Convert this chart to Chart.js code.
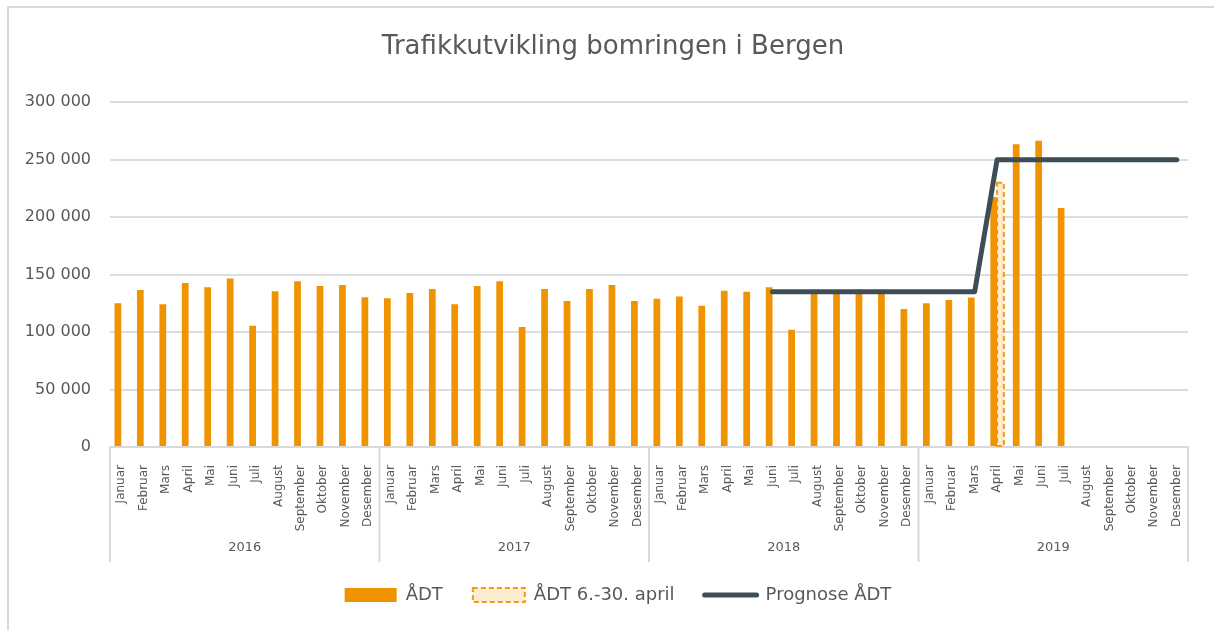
<!DOCTYPE html>
<html>
<head>
<meta charset="utf-8">
<script src="https://cdn.jsdelivr.net/npm/chart.js@4"></script>
<style>
  html, body { margin: 0; padding: 0; background: #fff; }
  #wrap { width: 1214px; height: 630px; }
</style>
</head>
<body>
<div id="wrap"><canvas id="trafikk" width="1214" height="630"></canvas></div>
<script>
// Kategorier
const months = ['Januar', 'Februar', 'Mars', 'April', 'Mai', 'Juni', 'Juli', 'August', 'September', 'Oktober', 'November', 'Desember'];
const years = ['2016', '2017', '2018', '2019'];

// ÅDT per måned (lest av figuren)
const adt2016 = [125000, 136500, 124300, 142600, 139000, 146500, 105500, 135600, 144300, 140000, 141000, 130400];
const adt2017 = [129400, 134000, 137500, 124300, 140000, 144300, 104300, 137400, 127000, 137400, 141000, 127000];
const adt2018 = [129000, 131000, 123000, 136000, 135000, 139000, 102000, 136000, 135500, 137000, 135000, 120000];
const adt2019 = [125000, 128000, 130000, 217600, 263500, 266500, 208000, null, null, null, null, null];

// ÅDT 6.-30. april
const april2016 = [null, null, null, null, null, null, null, null, null, null, null, null];
const april2017 = [null, null, null, null, null, null, null, null, null, null, null, null];
const april2018 = [null, null, null, null, null, null, null, null, null, null, null, null];
const april2019 = [null, null, null, 230000, null, null, null, null, null, null, null, null];

// Prognose ÅDT
const prog2016 = [null, null, null, null, null, null, null, null, null, null, null, null];
const prog2017 = [null, null, null, null, null, null, null, null, null, null, null, null];
const prog2018 = [null, null, null, null, null, 135000, 135000, 135000, 135000, 135000, 135000, 135000];
const prog2019 = [135000, 135000, 135000, 250000, 250000, 250000, 250000, 250000, 250000, 250000, 250000, 250000];

const yTicks = [0, 50000, 100000, 150000, 200000, 250000, 300000];

const labels = years.flatMap(() => months);
const adt = [...adt2016, ...adt2017, ...adt2018, ...adt2019];
const aprilPart = [...april2016, ...april2017, ...april2018, ...april2019];
const prognose = [...prog2016, ...prog2017, ...prog2018, ...prog2019];

const textColor = '#595959';
const gridColor = '#DDDDDD';
const orange = '#EF9300';
const aprilFill = '#FDEBD0';
const aprilBorder = '#F29A1A';
const lineColor = '#3E4E59';
const fontFamily = "'DejaVu Sans', sans-serif";

Chart.defaults.font.family = fontFamily;
Chart.defaults.color = textColor;

// Ramme rundt diagrammet + hvit bakgrunn, og litt forskyvning av tittel/forklaring
const framePlugin = {
    id: 'frame',
    afterLayout(chart) {
        chart.titleBlock.left += 19;
        chart.titleBlock.right += 19;
        chart.legend.left += 24;
        chart.legend.right += 24;
    },
    beforeDraw(chart) {
        const ctx = chart.ctx;
        ctx.save();
        ctx.fillStyle = '#fff';
        ctx.fillRect(0, 0, chart.width, chart.height);
        ctx.strokeStyle = '#D9D9D9';
        ctx.lineWidth = 2;
        ctx.strokeRect(8, 7, chart.width + 20, chart.height + 20);
        ctx.restore();
    }
};

// Stiplet kant rundt april-stolpen
const dashedBarPlugin = {
    id: 'dashedBar',
    afterDatasetDraw(chart, args) {
        if (args.index !== 1) return;
        const ctx = chart.ctx;
        const meta = args.meta;
        ctx.save();
        ctx.strokeStyle = aprilBorder;
        ctx.lineWidth = 2;
        ctx.setLineDash([5, 3]);
        meta.data.forEach((el, i) => {
            if (aprilPart[i] == null) return;
            const { x, y, base, width } = el.getProps(['x', 'y', 'base', 'width'], true);
            ctx.strokeRect(x - width / 2, y, width, base - y);
        });
        ctx.restore();
    }
};

// Årsgrupper under månedsetikettene
const yearGroupPlugin = {
    id: 'yearGroups',
    afterDraw(chart) {
        const ctx = chart.ctx;
        const xs = chart.scales.x;
        const area = chart.chartArea;
        const top = area.bottom;
        const bottom = area.bottom + 115;
        const edges = [];
        for (let g = 0; g <= years.length; g++) {
            const idx = g * months.length;
            if (g === 0) edges.push(area.left);
            else if (g === years.length) edges.push(area.right);
            else edges.push((xs.getPixelForTick(idx - 1) + xs.getPixelForTick(idx)) / 2);
        }
        ctx.save();
        ctx.strokeStyle = '#D9D9D9';
        ctx.lineWidth = 2;
        edges.forEach(x => {
            ctx.beginPath();
            ctx.moveTo(x, top);
            ctx.lineTo(x, bottom);
            ctx.stroke();
        });
        ctx.fillStyle = textColor;
        ctx.font = '13px ' + fontFamily;
        ctx.textAlign = 'center';
        ctx.textBaseline = 'middle';
        years.forEach((yr, g) => {
            ctx.fillText(yr, (edges[g] + edges[g + 1]) / 2, area.bottom + 101);
        });
        ctx.restore();
    }
};

new Chart(document.getElementById('trafikk'), {
    type: 'bar',
    data: {
        labels: labels,
        datasets: [
            {
                type: 'line',
                label: 'Prognose ÅDT',
                data: prognose,
                borderColor: lineColor,
                borderWidth: 5,
                borderCapStyle: 'round',
                borderJoinStyle: 'round',
                pointRadius: 0,
                tension: 0,
                order: 0
            },
            {
                label: 'ÅDT 6.-30. april',
                data: aprilPart,
                backgroundColor: aprilFill,
                borderWidth: 0,
                order: 2
            },
            {
                label: 'ÅDT',
                data: adt,
                backgroundColor: orange,
                borderWidth: 0,
                order: 1
            }
        ]
    },
    plugins: [framePlugin, dashedBarPlugin, yearGroupPlugin],
    options: {
        responsive: false,
        animation: false,
        events: [],
        layout: { padding: { left: 0, right: 26, top: 0, bottom: 16 } },
        datasets: {
            bar: { categoryPercentage: 0.6, barPercentage: 1.0, grouped: true }
        },
        plugins: {
            title: {
                display: true,
                text: 'Trafikkutvikling bomringen i Bergen',
                color: textColor,
                font: { size: 26, weight: 'normal' },
                padding: { top: 32, bottom: 39 }
            },
            tooltip: { enabled: false },
            legend: {
                position: 'bottom',
                labels: {
                    usePointStyle: true,
                    pointStyleWidth: 52,
                    boxHeight: 14,
                    padding: 30,
                    color: textColor,
                    font: { size: 18 },
                    generateLabels() {
                        return [
                            { text: 'ÅDT', pointStyle: 'rect', fillStyle: orange, strokeStyle: orange, lineWidth: 0, fontColor: textColor, datasetIndex: 2 },
                            { text: 'ÅDT 6.-30. april', pointStyle: 'rect', fillStyle: aprilFill, strokeStyle: aprilBorder, lineWidth: 2, lineDash: [5, 3], fontColor: textColor, datasetIndex: 1 },
                            { text: 'Prognose ÅDT', pointStyle: 'line', fillStyle: lineColor, strokeStyle: lineColor, lineWidth: 5, lineCap: 'round', fontColor: textColor, datasetIndex: 0 }
                        ];
                    }
                }
            }
        },
        scales: {
            x: {
                grid: { display: false },
                border: { display: true, color: '#D9D9D9', width: 2 },
                ticks: {
                    autoSkip: false,
                    minRotation: 90,
                    maxRotation: 90,
                    padding: 10,
                    color: textColor,
                    font: { size: 12 }
                },
                afterFit(scale) { scale.height = 109; }
            },
            y: {
                min: 0,
                max: 300000,
                afterBuildTicks(scale) { scale.ticks = yTicks.map(v => ({ value: v })); },
                grid: { color: gridColor, lineWidth: 2, drawTicks: false },
                border: { display: false },
                ticks: {
                    padding: 19,
                    color: textColor,
                    font: { size: 16 },
                    callback: v => v.toLocaleString('en-US').replace(/,/g, ' ')
                },
                afterFit(scale) { scale.width = 110; }
            }
        }
    }
});
</script>
</body>
</html>
